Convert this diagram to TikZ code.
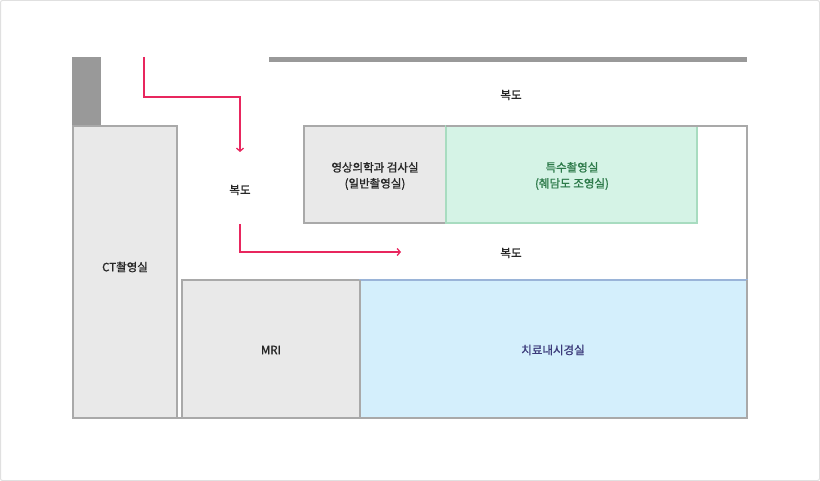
\documentclass[tikz,border=0pt]{standalone}
\usepackage{fontspec}
\setmainfont{Noto Sans CJK KR}[AutoFakeBold=1.2]
\usetikzlibrary{arrows.meta}
\definecolor{roomgray}{HTML}{E9E9E9}
\definecolor{edgegray}{HTML}{A9A9A9}
\definecolor{wallgray}{HTML}{999999}
\definecolor{greenfill}{HTML}{D5F3E6}
\definecolor{greenedge}{HTML}{A8DCC0}
\definecolor{greentext}{HTML}{2D7A4A}
\definecolor{bluefill}{HTML}{D4EFFC}
\definecolor{blueedge}{HTML}{9AB4D8}
\definecolor{bluetext}{HTML}{3B3A7A}
\definecolor{pinkarrow}{HTML}{E8265E}
\tikzset{
  px/.style={x=1pt,y=-1pt},
  room/.style={draw=edgegray,fill=roomgray,line width=1.5pt},
  lbl/.style={font=\fontsize{11.5}{16}\selectfont\bfseries,text=black!85,align=center,inner sep=0pt},
  route/.style={draw=pinkarrow,line width=1.3pt,-{Straight Barb[length=3pt,width=7pt,line width=1.3pt]}}
}
\begin{document}
\begin{tikzpicture}[px]
\useasboundingbox (0,0) rectangle (820,481);
\draw[draw=black!12,line width=1pt,rounded corners=2pt] (0.5,0.5) rectangle (819.5,480.5);
\fill[wallgray] (72,57) rectangle (101,126);
\fill[wallgray] (269,57) rectangle (747,62);
\draw[edgegray,line width=1.5pt] (177,126) -- (73,126) -- (73,418) -- (747,418) -- (747,126) -- (304,126);
\draw[room] (73,126) rectangle (177,418);
\node[lbl] (ct) at (125,267) {CT촬영실};
\draw[room] (304,126) rectangle (446,223);
\node[lbl] (xr) at (375,176) {영상의학과 검사실\\(일반촬영실)};
\draw[draw=greenedge,fill=greenfill,line width=1.5pt] (446,126) rectangle (697,223);
\draw[edgegray,line width=1.5pt] (446,126) -- (747,126);
\node[lbl,text=greentext] (sp) at (572,176) {특수촬영실\\(췌담도 조영실)};
\draw[room] (182,280) rectangle (360,418);
\node[lbl] (mri) at (271,350) {MRI};
\draw[draw=blueedge,fill=bluefill,line width=1.5pt] (360,280) rectangle (747,418);
\draw[edgegray,line width=1.5pt] (360,280) -- (360,418) -- (747,418) -- (747,280);
\node[lbl,text=bluetext] (en) at (553,350) {치료내시경실};
\node[lbl] (c1) at (511,95) {복도};
\node[lbl] (c2) at (240,190) {복도};
\node[lbl] (c3) at (511,253) {복도};
\coordinate (a0) at (144,57);
\coordinate (a1) at (240,152);
\coordinate (b0) at (240,224);
\coordinate (b1) at (401,252);
\draw[route] (a0) |- (240,97) -- (a1);
\draw[route] (b0) |- (b1);
\end{tikzpicture}
\end{document}
